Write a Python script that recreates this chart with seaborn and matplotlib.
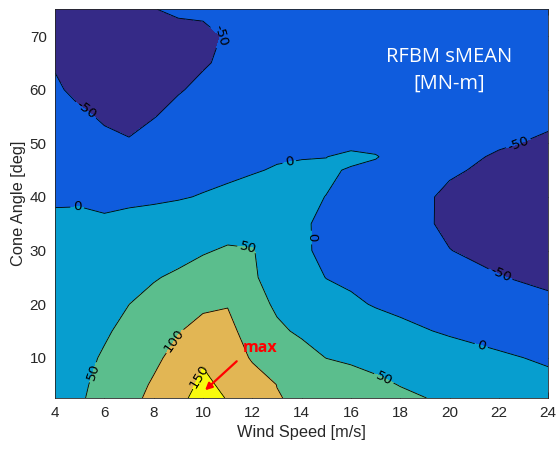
import numpy as np
import matplotlib
matplotlib.use("Agg")
import matplotlib.pyplot as plt
import seaborn as sns

# Grid of the load map: wind speed [m/s] x cone angle [deg]
wind_speed = [4, 5, 6, 7, 8, 9, 10, 11, 12, 13, 14, 15, 16, 17, 18, 20, 22, 24]
cone_angle = [2.5, 5, 10, 15, 20, 25, 30, 35, 40, 45, 47.5, 50, 55, 60, 65, 70, 75]

# RFBM sMEAN [MN-m], one list per cone angle (values along wind_speed)
rfbm_2p5 = [28, 45, 66, 87, 111, 140, 165, 148, 128, 102, 93.4, 84.5, 75.7, 66.8, 58, 43, 30.4, 18]
rfbm_5 = [27, 43, 62, 82, 105, 131.5, 158.6, 141, 120.6, 99.4, 89.1, 78.8, 68.5, 58.2, 48.6, 35.8, 22.9, 10]
rfbm_10 = [24, 39, 54, 71, 91, 114.6, 145, 127, 95.4, 80.1, 64.7, 49.4, 43.4, 37, 30.6, 17.9, 5.1, -5]
rfbm_15 = [20, 33, 45.4, 60, 76.3, 97.2, 117, 113, 79.6, 56.8, 43.9, 35.1, 26.3, 17.5, 8.8, -4.6, -13.8, -23]
rfbm_20 = [16, 27, 35.3, 49.8, 61.7, 76.8, 91, 97.8, 66, 43.75, 31.25, 18.75, 6.25, -2.8, -8.4, -19.6, -30.8, -42]
rfbm_25 = [12, 21, 25.2, 36.2, 47.1, 56.5, 68.5, 76.3, 54.4, 35.7, 17.9, -1, -6.9, -13.9, -20.8, -34.7, -48.6, -58]
rfbm_30 = [8, 14, 15.1, 22.7, 29.5, 36.4, 46.2, 54.7, 52.4, 28.6, 4.8, -6.8, -15.3, -23.8, -32.4, -49.4, -60, -68]
rfbm_35 = [3, 6, 5, 9.2, 12.3, 16.4, 24.8, 32.1, 28, 16, 4, -6.4, -16.5, -26.6, -36.7, -56, -66, -72]
rfbm_40 = [-2, -3.5, -7.9, -6.4, -4.8, -2.3, 1.8, 9.2, 15.6, 12, 6, -0.5, -11.4, -22.7, -34, -57, -67, -72]
rfbm_45 = [-10, -14, -23.7, -26.4, -20.3, -14.8, -9.4, -9, -3, 3, 7, 5, -3, -12.8, -23.8, -45.6, -58, -65]
rfbm_47p5 = [-14, -20, -31.6, -36.4, -28, -21, -15, -14, -8, -4, -2, -0.5, 8, 3, -18, -42, -53, -60]
rfbm_50 = [-19, -27, -39.6, -46.4, -35.6, -27.4, -20.6, -19, -13, -10, -9, -8, -10, -14, -22, -38, -47, -54]
rfbm_55 = [-29, -42, -55.4, -62, -51.3, -40, -31.8, -28, -20, -18, -17, -17, -18, -20, -24, -33, -41, -45]
rfbm_60 = [-43, -62, -65, -70, -62, -52.5, -43, -36, -25, -22, -20, -20, -20, -21, -23, -29, -35, -38]
rfbm_65 = [-54, -70, -72, -75, -63, -58, -53, -44, -30, -26, -23, -22, -21, -21, -22, -26, -30, -32]
rfbm_70 = [-60, -74, -76, -77, -58, -56, -55, -48, -33, -28, -25, -24, -23, -22, -22, -24, -26, -27]
rfbm_75 = [-65, -76, -77, -77, -50.5, -47, -46, -42, -32, -28, -26, -25, -24, -23, -22, -22, -23, -24]

contour_levels = [-50, 0, 50, 100, 150]

Z = np.array([rfbm_2p5, rfbm_5, rfbm_10, rfbm_15, rfbm_20, rfbm_25, rfbm_30, rfbm_35,
              rfbm_40, rfbm_45, rfbm_47p5, rfbm_50, rfbm_55, rfbm_60, rfbm_65,
              rfbm_70, rfbm_75])
X, Y = np.meshgrid(wind_speed, cone_angle)

sns.set_theme(style="ticks")
plt.rcParams["font.family"] = ["Liberation Sans", "DejaVu Sans"]
plt.rcParams["axes.unicode_minus"] = False
plt.rcParams["contour.negative_linestyle"] = "solid"

fig = plt.figure(figsize=(5.56, 4.51), dpi=100)
ax = fig.add_axes([0.099, 0.1175, 0.887, 0.862])

band_colors = ["#352A87", "#0F5CDD", "#079ECF", "#5BBE8D", "#E2B654", "#F8FA0D"]
fill_levels = [-200] + contour_levels + [300]
ax.contourf(X, Y, Z, levels=fill_levels, colors=band_colors)
cs = ax.contour(X, Y, Z, levels=contour_levels, colors="black", linewidths=0.6,
                linestyles="solid")

label_spots = [(10.7, 70), (5.3, 56.5), (4.9, 38), (13.5, 46.4), (22.8, 49.8),
               (14.25, 32.4), (22, 24.9), (21.2, 10.9), (17.2, 4.9), (11.85, 31.7),
               (8.95, 12.8), (9.95, 6.4), (5.6, 7.2)]
labels = ax.clabel(cs, fmt=lambda v: "%d" % round(v), fontsize=10, inline=True,
                   inline_spacing=3, manual=label_spots)
for lb in labels:
    lb.set_fontfamily(["DejaVu Sans"])
    lb.set_fontsize(9.6)

ax.text(20.0, 63.6, "RFBM sMEAN\n[MN-m]", color="white", fontsize=14.5,
        ha="center", va="center", family=["Open Sans", "DejaVu Sans"], linespacing=1.4)

ax.annotate("", xy=(10.0, 3.6), xytext=(11.45, 9.7),
            arrowprops=dict(arrowstyle="-|>", color="red", lw=1.6, mutation_scale=10))
ax.text(11.6, 11.8, "max", color="red", fontsize=11.5, fontweight="bold",
        ha="left", va="center", family=["Open Sans", "DejaVu Sans"])

ax.set_xlim(4, 24)
ax.set_ylim(2.5, 75)
ax.set_xticks(range(4, 25, 2))
ax.set_yticks(range(10, 71, 10))
ax.tick_params(direction="in", top=True, right=True, length=4, width=0.6,
               labelsize=11, colors="#262626", pad=6)
ax.set_xlabel("Wind Speed [m/s]", fontsize=11.8, color="#262626", labelpad=3)
ax.set_ylabel("Cone Angle [deg]", fontsize=11.8, color="#262626", labelpad=3)
for sp in ax.spines.values():
    sp.set_color("#262626")
    sp.set_linewidth(0.6)

fig.savefig("out.png", dpi=100)
